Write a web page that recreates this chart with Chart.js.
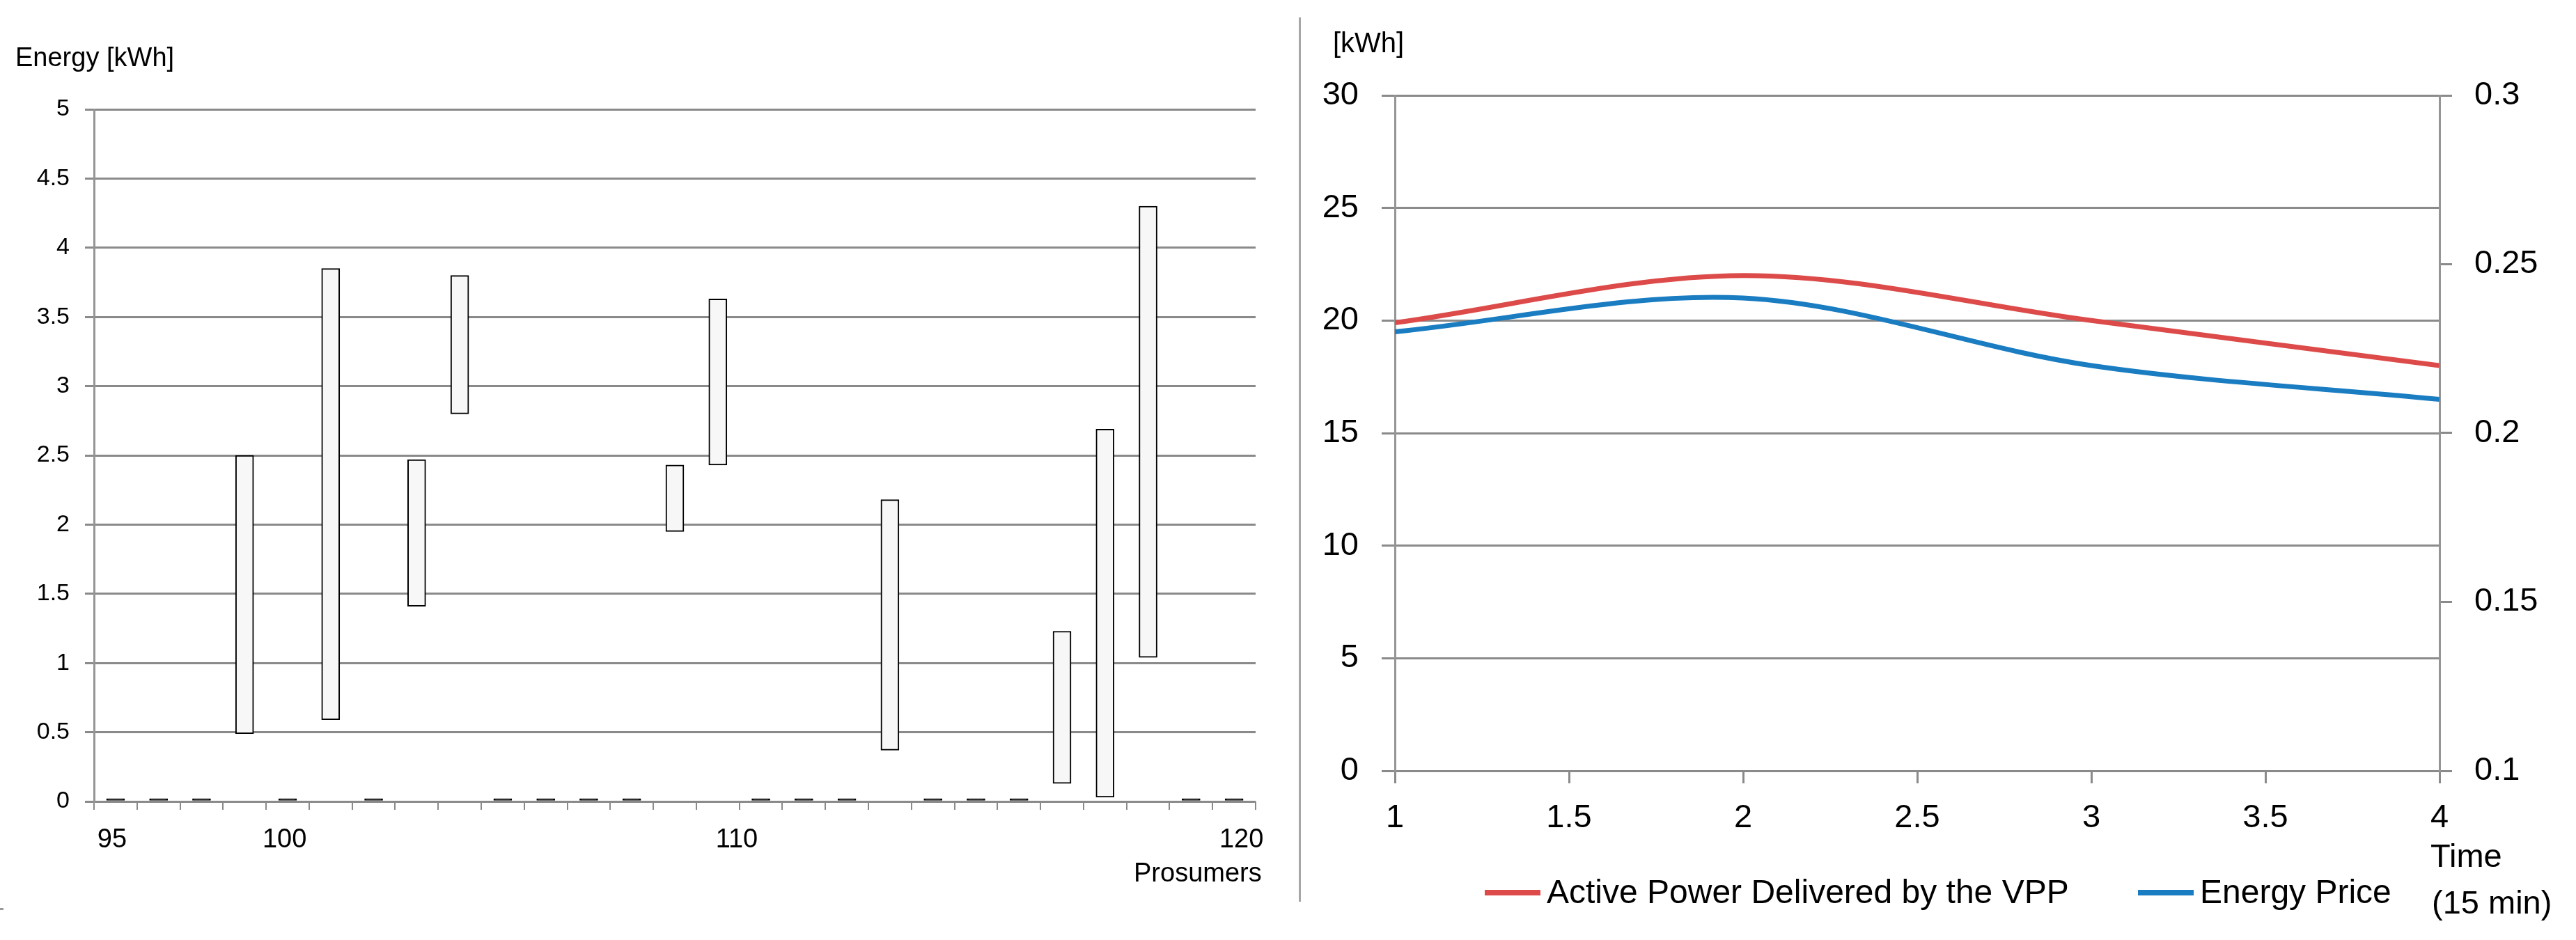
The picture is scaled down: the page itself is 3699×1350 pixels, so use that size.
<!DOCTYPE html>
<html>
<head>
<meta charset="utf-8">
<script src="https://cdn.jsdelivr.net/npm/chart.js@4.4.1/dist/chart.umd.min.js"></script>
<style>
    html, body { margin: 0; padding: 0; background: #ffffff; }
    body { width: 3699px; height: 1350px; position: relative; overflow: hidden; }
    .panel { position: absolute; top: 0; height: 1350px; }
    #izq { left: 0; width: 1840px; }
    #der { left: 1870px; width: 1829px; }
    #sep { position: absolute; left: 1865px; top: 25px; width: 3px; height: 1270px; background: #a6a6a6; }
    #marca { position: absolute; left: 0; top: 1304px; width: 5px; height: 3px; background: #999999; }
</style>
</head>
<body>
<div class="panel" id="izq"><canvas id="graficaProsumidores"></canvas></div>
<div id="sep"></div>
<div class="panel" id="der"><canvas id="graficaVPP"></canvas></div>
<div id="marca"></div>

<script>
// DATOS - panel izquierdo (rango de energia por prosumidor)
const prosumerSlots = ['1', '2', '3', '4', '5', '6', '7', '8', '9', '10', '11', '12', '13', '14',
    '15', '16', '17', '18', '19', '20', '21', '22', '23', '24', '25', '26', '27'];
const energyLow  = [0, 0, 0, 0.49, 0, 0.59, 0, 1.41, 2.80, 0, 0, 0, 0, 1.95, 2.43, 0, 0, 0, 0.37, 0, 0, 0, 0.13, 0.03, 1.04, 0, 0];
const energyHigh = [0, 0, 0, 2.50, 0, 3.85, 0, 2.47, 3.80, 0, 0, 0, 0, 2.43, 3.63, 0, 0, 0, 2.18, 0, 0, 0, 1.23, 2.69, 4.30, 0, 0];
const prosumerTickLabels = ['95', '100', '110', '120'];
const prosumerTickAt = [0.42, 4.43, 14.94, 26.67];

// DATOS - panel derecho (VPP)
const timeSteps = [1, 2, 3, 4];
const activePower = [19.9, 22, 20, 18];
const energyPrice = [0.23, 0.24, 0.22, 0.21];

// TEMA
const fuente = "'Liberation Sans', Arial, sans-serif";
const gridColor = '#8a8a8a';
const axisColor = '#959595';
Chart.defaults.color = '#000000';
Chart.defaults.font.family = fuente;

// numeros sin ceros sobrantes (5 y no 5.0)
const numero = (v) => String(+Number(v).toFixed(3));

// textos sueltos dibujados en el lienzo
const freeText = {
    id: 'freeText',
    afterDraw(chart, args, opts) {
        const ctx = chart.ctx;
        (opts.items || []).forEach(t => {
            ctx.save();
            ctx.font = t.font;
            ctx.fillStyle = '#000000';
            ctx.textAlign = 'left';
            ctx.textBaseline = 'alphabetic';
            ctx.fillText(t.text, t.x, t.y);
            ctx.restore();
        });
    }
};

// leyenda de lineas abajo
const lineLegend = {
    id: 'lineLegend',
    afterDraw(chart, args, opts) {
        if (!opts.starts) return;
        const ctx = chart.ctx;
        chart.data.datasets.forEach((ds, i) => {
            const x = opts.starts[i];
            ctx.save();
            ctx.strokeStyle = ds.borderColor;
            ctx.lineWidth = opts.lineWidth;
            ctx.beginPath();
            ctx.moveTo(x, opts.y);
            ctx.lineTo(x + opts.lineLength, opts.y);
            ctx.stroke();
            ctx.font = opts.font;
            ctx.fillStyle = '#000000';
            ctx.textBaseline = 'alphabetic';
            ctx.fillText(ds.label, x + opts.lineLength + opts.gap, opts.baseline);
            ctx.restore();
        });
    }
};

// 1. GRAFICA DE BARRAS FLOTANTES
const ctxBar = document.getElementById('graficaProsumidores');
new Chart(ctxBar.getContext('2d'), {
    type: 'bar',
    data: {
        labels: prosumerSlots,
        datasets: [{
            label: 'Energy [kWh]',
            data: energyLow.map((lo, i) => [lo, energyHigh[i]]),
            // los prosumidores sin rango quedan como un guion negro en cero
            backgroundColor: (c) => (energyHigh[c.dataIndex] === energyLow[c.dataIndex] ? '#000000' : '#f7f7f7'),
            borderColor: '#000000',
            borderWidth: 2,
            borderSkipped: false,
            barThickness: 26,
            minBarLength: 4
        }]
    },
    options: {
        responsive: true,
        maintainAspectRatio: false,
        animation: false,
        layout: { padding: { top: 157, right: 37, bottom: 0, left: 0 } },
        plugins: {
            legend: { display: false },
            tooltip: { enabled: false },
            freeText: {
                items: [
                    { text: 'Energy [kWh]', x: 22, y: 95, font: `38px ${fuente}` },
                    { text: 'Prosumers', x: 1628, y: 1266, font: `38px ${fuente}` }
                ]
            }
        },
        scales: {
            x: {
                type: 'category',
                offset: true,
                weight: 0,
                grid: { offset: true, drawOnChartArea: false, tickLength: 12, color: gridColor, lineWidth: 2 },
                border: { display: false },
                ticks: { display: false },
                afterFit: (s) => { s.height = 12; }
            },
            xl: {
                type: 'linear',
                position: 'bottom',
                weight: 1,
                min: 0,
                max: 27,
                offset: false,
                grid: { display: false, offset: false },
                border: { display: false },
                afterBuildTicks: (s) => { s.ticks = prosumerTickAt.map(v => ({ value: v })); },
                ticks: {
                    autoSkip: false, maxRotation: 0, minRotation: 0, padding: 13,
                    font: { size: 38 }, color: '#000000',
                    callback: (v, i) => prosumerTickLabels[i]
                },
                afterFit: (s) => { s.height = 1350 - 1151 - 12; }
            },
            y: {
                min: 0,
                max: 5,
                ticks: { stepSize: 0.5, padding: 22, font: { size: 34 }, color: '#000000', callback: numero },
                grid: { color: gridColor, lineWidth: 3, tickLength: 13 },
                border: { display: true, color: axisColor, width: 3 },
                afterFit: (s) => { s.width = 135; }
            }
        }
    },
    plugins: [freeText]
});

// 2. GRAFICA DE LINEAS (VPP)
const ctxLinea = document.getElementById('graficaVPP');
new Chart(ctxLinea.getContext('2d'), {
    type: 'line',
    data: {
        datasets: [{
            label: 'Active Power Delivered by the VPP',
            data: timeSteps.map((t, i) => ({ x: t, y: activePower[i] })),
            yAxisID: 'y',
            borderColor: '#dc4b49',
            borderWidth: 7,
            tension: 0.33,
            pointRadius: 0,
            fill: false,
            order: 2
        }, {
            label: 'Energy Price',
            data: timeSteps.map((t, i) => ({ x: t, y: energyPrice[i] })),
            yAxisID: 'y2',
            borderColor: '#1a7cc1',
            borderWidth: 7,
            tension: 0.33,
            pointRadius: 0,
            fill: false,
            order: 1
        }]
    },
    options: {
        responsive: true,
        maintainAspectRatio: false,
        animation: false,
        layout: { padding: { top: 137, right: 0, bottom: 0, left: 0 } },
        plugins: {
            legend: { display: false },
            tooltip: { enabled: false },
            freeText: {
                items: [
                    { text: '[kWh]', x: 44, y: 75, font: `40px ${fuente}` },
                    { text: 'Time', x: 1620, y: 1245, font: `47px ${fuente}` },
                    { text: '(15 min)', x: 1622, y: 1312, font: `47px ${fuente}` }
                ]
            },
            lineLegend: {
                starts: [262, 1200],
                y: 1282,
                lineLength: 80,
                lineWidth: 8,
                gap: 9,
                baseline: 1297,
                font: `48px ${fuente}`
            }
        },
        scales: {
            x: {
                type: 'linear',
                min: 1,
                max: 4,
                ticks: { stepSize: 0.5, padding: 22, font: { size: 47 }, color: '#000000', maxRotation: 0, autoSkip: false, callback: numero },
                grid: { drawOnChartArea: false, tickLength: 18, color: gridColor, lineWidth: 3 },
                border: { display: false },
                afterFit: (s) => { s.height = 243; }
            },
            y: {
                position: 'left',
                min: 0,
                max: 30,
                ticks: { stepSize: 5, padding: 33, font: { size: 47 }, color: '#000000', callback: numero },
                grid: { color: gridColor, lineWidth: 3, tickLength: 19 },
                border: { display: true, color: axisColor, width: 3 },
                afterFit: (s) => { s.width = 133; }
            },
            y2: {
                position: 'right',
                min: 0.1,
                max: 0.3,
                ticks: { stepSize: 0.05, padding: 32, font: { size: 47 }, color: '#000000', callback: numero },
                grid: { drawOnChartArea: false, color: gridColor, lineWidth: 3, tickLength: 18 },
                border: { display: true, color: axisColor, width: 3 },
                afterFit: (s) => { s.width = 196; }
            }
        }
    },
    plugins: [freeText, lineLegend]
});
</script>
</body>
</html>
